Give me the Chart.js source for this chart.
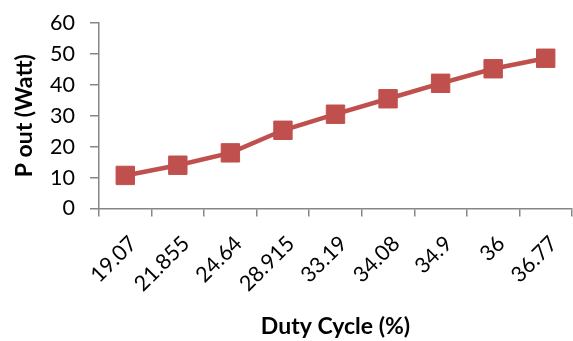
<!DOCTYPE html>
<html>
<head>
<meta charset="utf-8">
<script src="https://cdn.jsdelivr.net/npm/chart.js@4"></script>
<style>
html,body{margin:0;padding:0;background:#fff;}
#wrap{width:573px;height:341px;position:relative;}
</style>
</head>
<body>
<div id="wrap"><canvas id="c" width="573" height="341"></canvas></div>
<script>
const categories = ["19.07","21.855","24.64","28.915","33.19","34.08","34.9","36","36.77"];
const poutValues = [10.7, 14.0, 18.0, 25.3, 30.5, 35.5, 40.5, 45.2, 48.6];
const yTicks = [0,10,20,30,40,50,60];
const xTitle = "Duty Cycle (%)";
const yTitle = "P out (Watt)";

const FONT = "Lato, 'Open Sans', sans-serif";
const RED = "#C0504D";
const AXIS = "#868686";

new Chart(document.getElementById('c'), {
  type: 'line',
  data: {
    labels: categories,
    datasets: [{
      data: poutValues,
      borderColor: RED,
      backgroundColor: RED,
      borderWidth: 4.5,
      pointStyle: 'rect',
      pointRadius: 13,
      pointBorderWidth: 1,
      pointBorderColor: RED,
      pointBackgroundColor: RED,
      tension: 0,
      fill: false
    }]
  },
  options: {
    responsive: false,
    animation: false,
    devicePixelRatio: 1,
    layout: { autoPadding: false, padding: { top: 23, right: 1, left: 0, bottom: 0 } },
    plugins: { legend: { display: false }, tooltip: { enabled: false } },
    scales: {
      x: {
        offset: true,
        grid: { offset: true, drawOnChartArea: false, drawTicks: true, tickLength: 8, color: AXIS, lineWidth: 1.5 },
        border: { color: AXIS, width: 1.5 },
        ticks: { color: '#000', font: { family: FONT, size: 21.5 }, minRotation: 45, maxRotation: 45, padding: 14.3, labelOffset: 8, autoSkip: false },
        title: { display: true, text: xTitle, color: '#000', font: { family: FONT, size: 23, weight: 'bold' }, padding: { top: 0, bottom: 1 } },
        afterFit: (s) => { s.height = 132.5; s.paddingLeft = 0; s.paddingRight = 0; }
      },
      y: {
        min: 0, max: 60,
        afterBuildTicks: (s) => { s.ticks = yTicks.map(v => ({ value: v })); },
        grid: { drawOnChartArea: false, drawTicks: true, tickLength: 9, color: AXIS, lineWidth: 1.5 },
        border: { color: AXIS, width: 1.5 },
        ticks: { color: '#000', font: { family: FONT, size: 21.5 }, padding: 15 },
        title: { display: true, text: yTitle, color: '#000', font: { family: FONT, size: 23, weight: 'bold' }, padding: { top: 11, bottom: 0 } },
        afterFit: (s) => { s.width = 99; s.paddingTop = 0; s.paddingBottom = 0; }
      }
    }
  }
});
</script>
</body>
</html>
